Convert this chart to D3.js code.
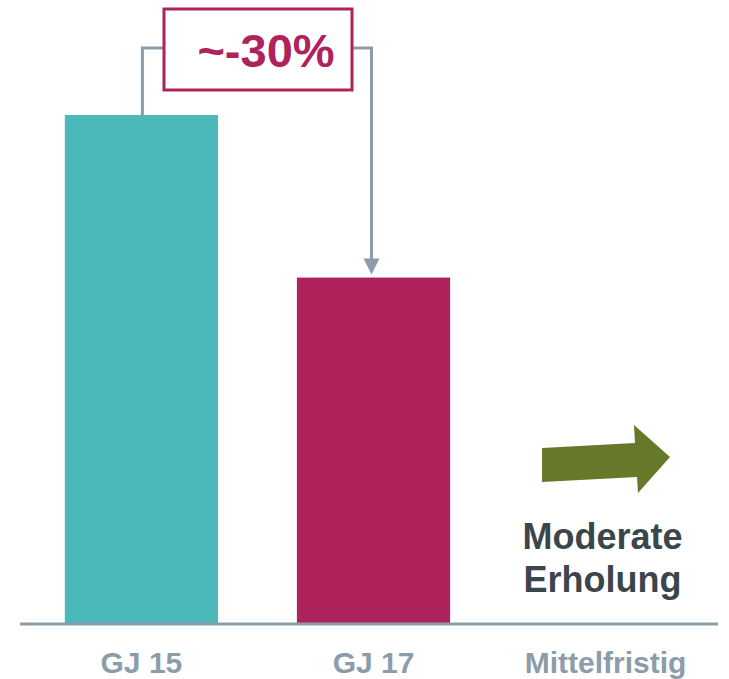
<!DOCTYPE html>
<html>
<head>
<meta charset="utf-8">
<script src="https://cdn.jsdelivr.net/npm/d3@7"></script>
<style>
  body { margin: 0; background: #fff; }
  text { font-family: "Liberation Sans", Arial, sans-serif; font-weight: bold; }
</style>
</head>
<body>
<div id="chart"></div>
<script>
// data
const categories = ["GJ 15", "GJ 17", "Mittelfristig"];
const values = [100, 68, null];
const barColors = ["#4bb8b9", "#af235d"];
const changeLabel = "~-30%";
const outlookLines = ["Moderate", "Erholung"];

const W = 729, H = 679;
const baseY = 623;
const gray = "#8b9dab";

const svg = d3.select("#chart").append("svg")
    .attr("width", W)
    .attr("height", H);

const x = d3.scaleBand()
    .domain(categories)
    .range([30, 717])
    .paddingInner(0.34)
    .paddingOuter(0.15);

const y = d3.scaleLinear()
    .domain([0, 100])
    .range([baseY, 115]);

const barData = categories.map((c, i) => ({cat: c, v: values[i], color: barColors[i]}))
  .filter(d => d.v != null);

svg.selectAll("rect.bar")
  .data(barData)
  .enter()
  .append("rect")
    .attr("class", "bar")
    .attr("x", d => x(d.cat))
    .attr("y", d => y(d.v))
    .attr("width", x.bandwidth())
    .attr("height", d => baseY - y(d.v))
    .attr("fill", d => d.color);

// baseline
svg.append("line")
  .attr("x1", 20).attr("x2", 718)
  .attr("y1", baseY + 1).attr("y2", baseY + 1)
  .attr("stroke", gray)
  .attr("stroke-width", 3);

// category labels
svg.selectAll("text.cat")
  .data(categories)
  .enter()
  .append("text")
    .attr("class", "cat")
    .attr("x", d => x(d) + x.bandwidth() / 2)
    .attr("y", 673)
    .attr("text-anchor", "middle")
    .attr("font-size", 30)
    .attr("fill", gray)
    .text(d => d);

// change annotation
const c1 = x(categories[0]) + x.bandwidth() / 2 + 1;
const c2 = x(categories[1]) + x.bandwidth() / 2 - 2;
const box = {x0: 164, x1: 352, y0: 9, y1: 90};
const linkY = 48;

svg.append("path")
  .attr("d", `M${c1},${y(values[0])} V${linkY} H${box.x0}`)
  .attr("fill", "none")
  .attr("stroke", gray)
  .attr("stroke-width", 3);

svg.append("path")
  .attr("d", `M${box.x1},${linkY} H${c2} V${y(values[1]) - 16}`)
  .attr("fill", "none")
  .attr("stroke", gray)
  .attr("stroke-width", 3);

const tipY = y(values[1]) - 3;
svg.append("path")
  .attr("d", `M${c2 - 8},${tipY - 16} L${c2 + 8},${tipY - 16} L${c2},${tipY} Z`)
  .attr("fill", gray);

svg.append("rect")
  .attr("x", box.x0).attr("y", box.y0)
  .attr("width", box.x1 - box.x0)
  .attr("height", box.y1 - box.y0)
  .attr("fill", "#fff")
  .attr("stroke", "#af235d")
  .attr("stroke-width", 3);

svg.append("text")
  .attr("x", 266)
  .attr("y", 67)
  .attr("text-anchor", "middle")
  .attr("font-size", 47)
  .attr("fill", "#af235d")
  .text(changeLabel);

// outlook arrow
const b3 = x(categories[2]);
const arrowPts = [
  [b3 + 13, 482], [b3 + 13, 448], [b3 + 106, 443], [b3 + 105, 425],
  [b3 + 141, 457], [b3 + 109, 493], [b3 + 108, 477]
];
svg.append("polygon")
  .attr("points", arrowPts.map(p => p.join(",")).join(" "))
  .attr("fill", "#66792b");

svg.selectAll("text.outlook")
  .data(outlookLines)
  .enter()
  .append("text")
    .attr("class", "outlook")
    .attr("x", b3 + x.bandwidth() / 2 - 3)
    .attr("y", (d, i) => 549 + i * 43)
    .attr("text-anchor", "middle")
    .attr("font-size", 36)
    .attr("fill", "#3b454c")
    .text(d => d);
</script>
</body>
</html>
